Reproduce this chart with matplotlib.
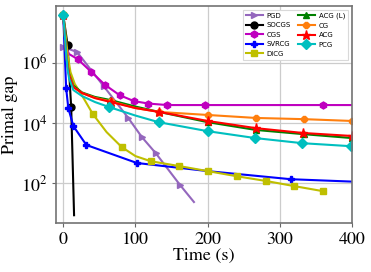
import matplotlib
matplotlib.use("Agg")
import matplotlib.pyplot as plt
import numpy as np

plt.rcParams['font.family'] = ['STIXGeneral', 'DejaVu Serif']
plt.rcParams['mathtext.fontset'] = 'stix'

# ---- data (time in s, log10 primal gap) ----
pgd_t = [0, 19, 56, 90, 109, 128, 162, 181]
pgd_y = [6.53, 6.37, 5.23, 4.17, 3.53, 3.0, 1.93, 1.37]
pgd_m = [0, 1, 2, 3, 4, 5, 6]

socgs_t = [0, 6, 11, 15]
socgs_y = [7.6, 6.6, 4.53, 0.93]
socgs_m = [0, 1, 2]

cgs_t = [0, 3, 8, 20, 39, 58, 78, 98, 118, 144, 197, 360, 400]
cgs_y = [7.6, 6.6, 6.3, 6.13, 5.7, 5.27, 4.93, 4.73, 4.65, 4.6, 4.6, 4.6, 4.6]
cgs_m = [0, 3, 4, 5, 6, 7, 8, 9, 10, 11]

svrcg_t = [0, 4, 7, 14, 32, 102, 200, 315, 400]
svrcg_y = [7.6, 5.17, 4.5, 3.9, 3.27, 2.67, 2.4, 2.13, 2.05]
svrcg_m = [0, 1, 2, 3, 4, 5, 7]

dicg_t = [0, 3, 6, 10, 16, 24, 41, 60, 81, 100, 121, 160, 200, 240, 281, 320, 360]
dicg_y = [7.6, 7.0, 6.3, 5.7, 5.3, 5.0, 4.3, 3.7, 3.2, 2.9, 2.73, 2.57, 2.4, 2.23, 2.07, 1.9, 1.73]
dicg_m = [0, 6, 8, 10, 11, 12, 13, 14, 15, 16]

acgl_t = [0, 2, 4, 6, 8, 14, 26, 44, 65, 100, 133, 200, 267, 333, 400]
acgl_y = [7.6, 7.0, 6.3, 5.95, 5.65, 5.25, 5.02, 4.87, 4.77, 4.55, 4.37, 4.03, 3.77, 3.63, 3.5]
acgl_m = [0, 8, 10, 11, 12, 13, 14]

cg_t = [0, 2, 4, 6, 8, 14, 26, 44, 66, 100, 133, 200, 267, 334, 400]
cg_y = [7.6, 7.0, 6.3, 5.92, 5.62, 5.2, 5.0, 4.84, 4.72, 4.5, 4.37, 4.27, 4.17, 4.13, 4.07]
cg_m = [0, 8, 10, 11, 12, 13, 14]

acg_t = [0, 2, 4, 6, 8, 14, 26, 44, 66, 100, 133, 200, 267, 332, 400]
acg_y = [7.6, 7.0, 6.3, 5.9, 5.6, 5.2, 5.0, 4.83, 4.7, 4.5, 4.37, 4.07, 3.83, 3.67, 3.57]
acg_m = [0, 8, 10, 11, 12, 13, 14]

pcg_t = [0, 2, 4, 6, 8, 14, 26, 44, 64, 100, 132, 200, 266, 331, 398, 400]
pcg_y = [7.6, 7.0, 6.3, 5.8, 5.5, 5.1, 4.9, 4.7, 4.53, 4.25, 4.03, 3.73, 3.5, 3.33, 3.23, 3.22]
pcg_m = [0, 8, 10, 11, 12, 13, 14]

series = [
    ("PGD", pgd_t, pgd_y, pgd_m, "#9467bd", ">"),
    ("SOCGS", socgs_t, socgs_y, socgs_m, "k", "o"),
    ("CGS", cgs_t, cgs_y, cgs_m, "m", "h"),
    ("SVRCG", svrcg_t, svrcg_y, svrcg_m, "b", "P"),
    ("DICG", dicg_t, dicg_y, dicg_m, "y", "s"),
    ("ACG (L)", acgl_t, acgl_y, acgl_m, "g", "^"),
    ("CG", cg_t, cg_y, cg_m, "#ff7f0e", "8"),
    ("ACG", acg_t, acg_y, acg_m, "r", "*"),
    ("PCG", pcg_t, pcg_y, pcg_m, "c", "D"),
]

fig = plt.figure(figsize=(3.71, 2.72), dpi=100)
ax = fig.add_axes([0.151, 0.18, 0.798, 0.798])

for name, t, y, m, col, mk in series:
    ax.plot(t, 10.0 ** np.array(y), color=col, marker=mk, markevery=m,
            lw=1.5, ms=5 if mk != "*" else 6.5, label=name)

ax.set_yscale("log")
ax.set_xlim(-10, 400)
ax.set_ylim(10 ** 0.67, 10 ** 7.9)
ax.set_xticks([0, 100, 200, 300, 400])
ax.set_yticks([1e2, 1e4, 1e6])
ax.yaxis.set_minor_locator(matplotlib.ticker.NullLocator())
ax.tick_params(labelsize=13, length=3, width=0.8, color="0.4")
ax.grid(True, color="0.8", lw=0.9)
ax.set_axisbelow(True)
for s in ax.spines.values():
    s.set_color("0.45")
    s.set_linewidth(1.2)
ax.set_xlabel("Time (s)", fontsize=13, labelpad=0)
ax.set_ylabel("Primal gap", fontsize=13, labelpad=2)

leg = ax.legend(ncol=2, loc="upper right", prop={"family": "DejaVu Sans", "size": 5},
                handlelength=2.4, labelspacing=0.5, columnspacing=1.0,
                handletextpad=0.6, borderaxespad=0.6, borderpad=0.4, fancybox=False,
                edgecolor="0.85", framealpha=1, markerscale=1.0)
leg.get_frame().set_linewidth(0.8)

fig.savefig("out.png", dpi=100)
